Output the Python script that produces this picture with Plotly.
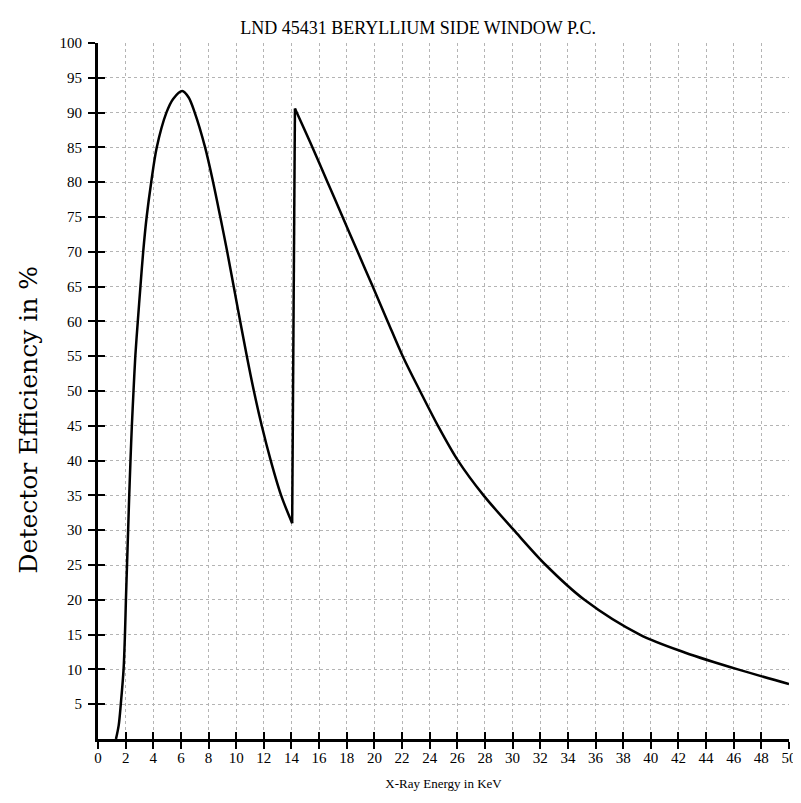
import plotly.graph_objects as go

energy_kev = [1.3, 1.5, 1.65, 1.85, 1.95, 2.02, 2.1, 2.18, 2.26, 2.35, 2.45, 2.57, 2.7, 2.88, 3.07, 3.27,
              3.52, 3.85, 4.25, 4.95, 5.45, 6.1, 6.55, 7.0, 7.75, 8.33, 8.85, 9.35, 9.82, 10.29, 10.77, 11.28,
              11.85, 12.5, 13.25, 14.05,
              14.25, 15.52, 16.61, 17.7, 18.79, 19.88, 20.96, 22.05, 23.3, 24.6,
              26.05, 27.9, 30.1, 32.4, 35.2, 39.2, 42.5, 46.3, 50.0]
efficiency = [0, 2, 5, 10, 15, 20, 25, 30, 35, 40, 45, 50, 55, 60, 65, 70,
              75, 80, 85, 90, 92, 93.1, 92.2, 90, 85, 80, 75, 70, 65, 60, 55, 50,
              45, 40, 35, 31,
              90.6, 85, 80, 75, 70, 65, 60, 55, 50, 45,
              40, 35, 30, 25, 20, 15, 12.4, 10, 7.9]

x_ticks = list(range(0, 51, 2))
y_ticks = list(range(5, 101, 5))

FONT = "Liberation Serif"

# split the curve at the absorption edge (large upward jump)
edge = next(i for i in range(1, len(efficiency)) if efficiency[i] - efficiency[i - 1] > 30)

line_style = dict(color="black", width=2.5)
fig = go.Figure()
fig.add_trace(go.Scatter(x=energy_kev[:edge], y=efficiency[:edge], mode="lines",
                         line=dict(shape="spline", smoothing=0.9, **line_style), showlegend=False))
fig.add_trace(go.Scatter(x=energy_kev[edge - 1:edge + 1], y=efficiency[edge - 1:edge + 1], mode="lines",
                         line=line_style, showlegend=False, hoverinfo="skip"))
fig.add_trace(go.Scatter(x=energy_kev[edge:], y=efficiency[edge:], mode="lines",
                         line=dict(shape="spline", smoothing=0.9, **line_style), showlegend=False))
# invisible overlay copy that carries the inside half of the crossing ticks
fig.add_trace(go.Scatter(x=energy_kev, y=efficiency, mode="lines", xaxis="x2", yaxis="y2",
                         line=dict(color="rgba(0,0,0,0)", width=0), showlegend=False,
                         hoverinfo="skip"))

axis_common = dict(showline=True, linecolor="black", linewidth=3, zeroline=False,
                   tickcolor="black", tickwidth=2, ticklen=7)

fig.update_layout(
    width=801, height=803,
    margin=dict(l=90, r=18, t=35, b=72),
    paper_bgcolor="white", plot_bgcolor="white",
    font=dict(family=FONT, color="black"),
    title=dict(text="LND 45431 BERYLLIUM SIDE WINDOW P.C.", x=0.512, xanchor="center",
               yref="paper", y=1, yanchor="bottom", pad=dict(b=9),
               font=dict(family=FONT, size=18, color="black")),
    xaxis=dict(range=[0, 50], tickvals=x_ticks, ticktext=[str(v) for v in x_ticks],
               ticks="outside", showgrid=True, gridcolor="#b4b4b4", griddash="dot", gridwidth=1,
               tickfont=dict(family=FONT, size=15, color="black"), ticklabelstandoff=-4,
               title=dict(text="X-Ray Energy in KeV", standoff=14,
                          font=dict(family=FONT, size=13, color="black")),
               **axis_common),
    yaxis=dict(range=[0, 100], tickvals=y_ticks, ticktext=[str(v) for v in y_ticks],
               ticks="outside", showgrid=True, gridcolor="#b4b4b4", griddash="dot", gridwidth=1,
               tickfont=dict(family=FONT, size=15, color="black"), ticklabelstandoff=3,
               **axis_common),
    xaxis2=dict(range=[0, 50], overlaying="x", side="bottom", tickvals=x_ticks,
                showticklabels=False, ticks="inside", showgrid=False, **axis_common),
    yaxis2=dict(range=[0, 100], overlaying="y", side="left", tickvals=y_ticks,
                showticklabels=False, ticks="inside", showgrid=False, **axis_common),
    annotations=[dict(text="Detector Efficiency in %", xref="paper", yref="paper",
                      x=-0.101, y=0.458, xanchor="center", yanchor="middle", textangle=-90,
                      showarrow=False, font=dict(family="DejaVu Serif", size=25, color="black"))],
)

fig.write_html("out.html")
